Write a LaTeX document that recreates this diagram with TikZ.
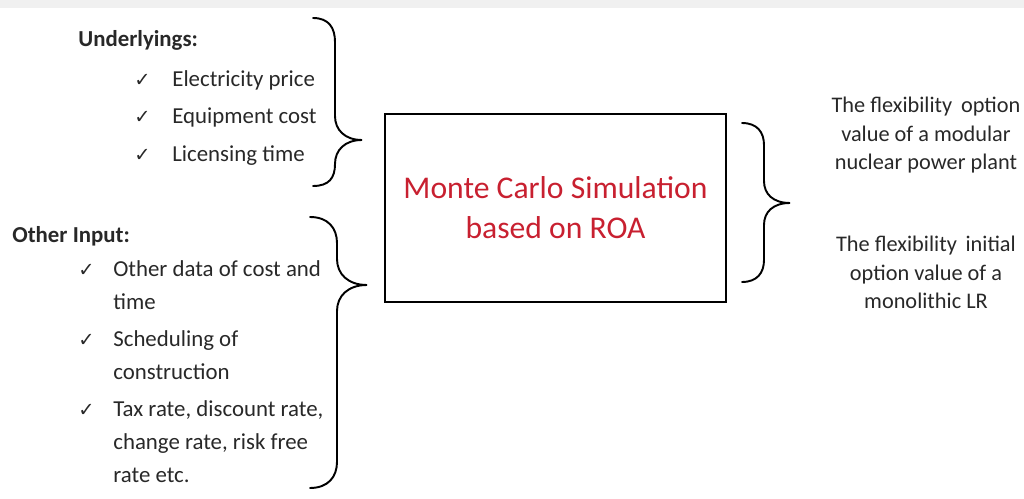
\documentclass[tikz,border=0pt]{standalone}
\usepackage{fontspec}
\setmainfont{Carlito}
\newfontfamily\symfont{DejaVu Sans}
\definecolor{roared}{RGB}{200,32,48}
\definecolor{inkgray}{RGB}{40,40,40}

\tikzset{
  head/.style={font=\bfseries\fontsize{13}{16}\selectfont, anchor=base west, inner sep=0pt, text=inkgray},
  inlist/.style={font=\fontsize{13}{18.6}\selectfont, anchor=base west, inner sep=0pt, text=inkgray},
  chk/.style={font=\symfont\fontsize{11}{11}\selectfont, anchor=base east, inner sep=0pt, text=inkgray},
  outtext/.style={font=\fontsize{12.7}{16.1}\selectfont, anchor=base, inner sep=0pt, text=inkgray},
  brc/.style={line width=1.1pt, line cap=round},
}
\newcommand{\leftlines}[1]{\begin{tabular}[t]{@{}l@{}}#1\end{tabular}}
\newcommand{\midlines}[1]{\begin{tabular}[t]{@{}c@{}}#1\end{tabular}}

\begin{document}
\begin{tikzpicture}[x=0.2mm, y=-0.2mm]
	\useasboundingbox (0,0) rectangle (1024,499);
	\fill[black!6] (0,0) rectangle (1024,8);

	% inputs
	\node[head] (U) at (78,47) {Underlyings:};
	\node[inlist] (e1) at (172,87) {Electricity price};
	\node[inlist] (e2) at (172,124) {Equipment cost};
	\node[inlist] (e3) at (172,162) {Licensing time};
	\node[chk] (c1) at ([xshift=-4.2mm]e1.base west) {✓};
	\node[chk] (c2) at ([xshift=-4.2mm]e2.base west) {✓};
	\node[chk] (c3) at ([xshift=-4.2mm]e3.base west) {✓};

	\node[head] (O) at (12,243) {Other Input:};
	\node[inlist] (o1) at (113,277) {\leftlines{Other data of cost and\\ time}};
	\node[inlist] (o2) at (113,347) {\leftlines{Scheduling of\\ construction}};
	\node[inlist] (o3) at (113,417) {\leftlines{Tax rate, discount rate,\\ change rate, risk free\\ rate etc.}};
	\node[chk] (c4) at ([xshift=-3.6mm]o1.base west) {✓};
	\node[chk] (c5) at ([xshift=-3.6mm]o2.base west) {✓};
	\node[chk] (c6) at ([xshift=-3.6mm]o3.base west) {✓};

	% simulation
	\node[draw, line width=1.6pt, minimum width=68.2mm, minimum height=37.6mm, align=center,
	      text=roared, font=\fontsize{18}{22.7}\selectfont] (MC) at (555.5,208)
	      {Monte Carlo Simulation\\ based on ROA};

	% outputs
	\node[outtext] (R1) at (926,113) {\midlines{The flexibility\, option\\ value of a modular\\ nuclear power plant}};
	\node[outtext] (R2) at (926,252) {\midlines{The flexibility\, initial\\ option value of a\\ monolithic LR}};

	% braces
	\draw[brc] (313,18) .. controls (329,18) and (335,28) .. (335,42) -- (335,116)
		.. controls (335,130) and (345,140) .. (362,140)
		.. controls (345,140) and (335,150) .. (335,164)
		.. controls (335,178) and (329,186) .. (313,186);
	\draw[brc] (310,217) .. controls (328,217) and (337,228) .. (337,243) -- (337,259)
		.. controls (337,274) and (348,285) .. (367,285)
		.. controls (348,285) and (337,296) .. (337,311) -- (337,462)
		.. controls (337,477) and (328,488) .. (310,488);
	\draw[brc] (742,123) .. controls (757,123) and (764,132) .. (764,145) -- (764,181)
		.. controls (764,194) and (773,203) .. (790,203)
		.. controls (773,203) and (764,212) .. (764,225) -- (764,260)
		.. controls (764,273) and (757,282) .. (742,282);
\end{tikzpicture}
\end{document}
